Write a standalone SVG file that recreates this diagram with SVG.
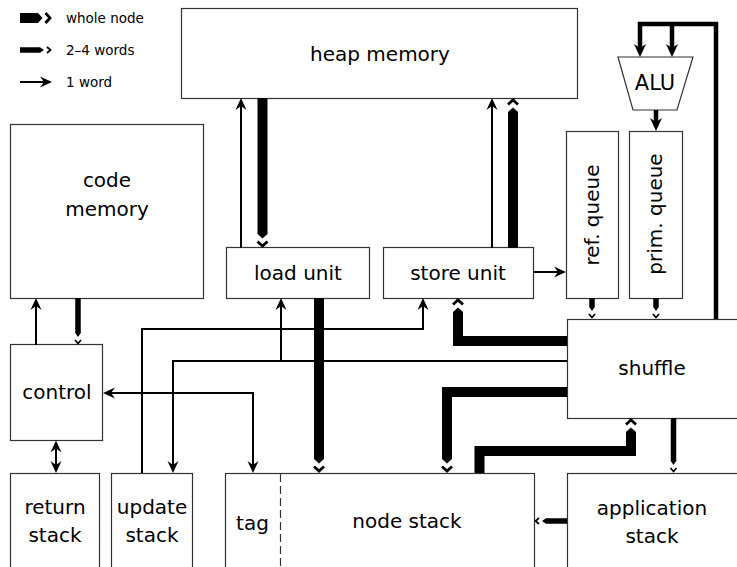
<svg xmlns="http://www.w3.org/2000/svg" width="737" height="567" viewBox="0 0 737 567">
<style>
  .box { fill: #fff; stroke: #333; stroke-width: 1.2; }
  .lbl { font-family: "DejaVu Sans", sans-serif; font-size: 20px; fill: #000; text-anchor: middle; }
  .leg { font-family: "DejaVu Sans", sans-serif; font-size: 13.5px; fill: #000; }
  .c1 { fill: none; stroke: #000; stroke-width: 2; stroke-linejoin: miter; }
  .c2 { fill: none; stroke: #000; stroke-width: 4.5; stroke-linejoin: miter; }
  .c3 { fill: none; stroke: #000; stroke-width: 5.5; stroke-linejoin: miter; }
  .c4 { fill: none; stroke: #000; stroke-width: 10; stroke-linejoin: miter; }
</style>
<defs>
  <marker id="thin" markerUnits="userSpaceOnUse" orient="auto-start-reverse" overflow="visible" markerWidth="1" markerHeight="1" refX="0" refY="0">
    <path d="M4,0 L-8,-5.5 L-4,0 L-8,5.5 Z" fill="#000"/>
  </marker>
  <marker id="mid" markerUnits="userSpaceOnUse" orient="auto" overflow="visible" markerWidth="1" markerHeight="1" refX="0" refY="0">
    <path d="M5,0 L-8,-6 L-4,0 L-8,6 Z" fill="#000"/>
  </marker>
  <marker id="med" markerUnits="userSpaceOnUse" orient="auto" overflow="visible" markerWidth="1" markerHeight="1" refX="0" refY="0">
    <path d="M-0.5,-2.75 L0,-2.75 L4,0 L0,2.75 L-0.5,2.75 Z" fill="#000"/>
    <path d="M7,-3 L10.5,0 L7,3" fill="none" stroke="#000" stroke-width="1.7"/>
  </marker>
  <marker id="whole" markerUnits="userSpaceOnUse" orient="auto" overflow="visible" markerWidth="1" markerHeight="1" refX="0" refY="0">
    <path d="M-0.5,-5 L0,-5 L4.5,0 L0,5 L-0.5,5 Z" fill="#000"/>
    <path d="M7.5,-5 L12,0 L7.5,5" fill="none" stroke="#000" stroke-width="2.8"/>
  </marker>
</defs>

<g id="legend">
  <path class="c4" d="M20,18 L38,18" marker-end="url(#whole)"/>
  <text class="leg" x="66" y="23">whole node</text>
  <path class="c3" d="M20,50 L40,50" marker-end="url(#med)"/>
  <text class="leg" x="66" y="55">2–4 words</text>
  <path class="c1" d="M20,82 L48,82" marker-end="url(#thin)"/>
  <text class="leg" x="66" y="87">1 word</text>
</g>

<g id="heap-memory">
  <rect class="box" x="181.5" y="8.5" width="396" height="90"/>
  <text class="lbl" x="380" y="61">heap memory</text>
</g>
<g id="code-memory">
  <rect class="box" x="10.5" y="124.5" width="193" height="174"/>
  <text class="lbl" x="107" y="187">code</text>
  <text class="lbl" x="107" y="216">memory</text>
</g>
<g id="control">
  <rect class="box" x="10.5" y="344.5" width="92" height="96"/>
  <text class="lbl" x="57" y="399">control</text>
</g>
<g id="load-unit">
  <rect class="box" x="226.5" y="247.5" width="143" height="51"/>
  <text class="lbl" x="298" y="280">load unit</text>
</g>
<g id="store-unit">
  <rect class="box" x="383.5" y="247.5" width="150" height="51"/>
  <text class="lbl" x="458" y="280">store unit</text>
</g>
<g id="ref-queue">
  <rect class="box" x="566.5" y="131.5" width="52" height="167"/>
  <text class="lbl" transform="translate(599,215) rotate(-90)" x="0" y="0">ref.  queue</text>
</g>
<g id="prim-queue">
  <rect class="box" x="629.5" y="131.5" width="53" height="167"/>
  <text class="lbl" transform="translate(662,214) rotate(-90)" x="0" y="0">prim.  queue</text>
</g>
<g id="alu">
  <polygon class="box" points="618,57 693,57 677,110 633,110"/>
  <text class="lbl" x="655" y="90" style="font-size:21px">ALU</text>
</g>
<g id="shuffle">
  <rect class="box" x="567.5" y="319.5" width="180" height="99"/>
  <text class="lbl" x="652" y="375">shuffle</text>
</g>
<g id="return-stack">
  <rect class="box" x="10.5" y="473.5" width="89" height="110"/>
  <text class="lbl" x="55" y="514">return</text>
  <text class="lbl" x="55" y="542">stack</text>
</g>
<g id="update-stack">
  <rect class="box" x="111.5" y="473.5" width="81" height="110"/>
  <text class="lbl" x="152" y="514">update</text>
  <text class="lbl" x="152" y="542">stack</text>
</g>
<g id="node-stack">
  <rect class="box" x="225.5" y="473.5" width="309" height="110"/>
  <path d="M280.5,474 V567" fill="none" stroke="#333" stroke-width="1.2" stroke-dasharray="8,4"/>
  <text class="lbl" x="252.5" y="530">tag</text>
  <text class="lbl" x="407" y="528">node stack</text>
</g>
<g id="application-stack">
  <rect class="box" x="567.5" y="473.5" width="180" height="110"/>
  <text class="lbl" x="652" y="515">application</text>
  <text class="lbl" x="652" y="543">stack</text>
</g>

<g id="connectors">
  <!-- 1 word -->
  <path class="c1" d="M241,248 L241,102" marker-end="url(#thin)"/>
  <path class="c1" d="M492,248 L492,102" marker-end="url(#thin)"/>
  <path class="c1" d="M533,272 L562,272" marker-end="url(#thin)"/>
  <path class="c1" d="M36,345 L36,302" marker-end="url(#thin)"/>
  <path class="c1" d="M253,469 L253,393 L107,393" marker-start="url(#thin)" marker-end="url(#thin)"/>
  <path class="c1" d="M56,444.5 L56,469" marker-start="url(#thin)" marker-end="url(#thin)"/>
  <path class="c1" d="M142,473 L142,329 L423,329 L423,302" marker-end="url(#thin)"/>
  <path class="c1" d="M567,361 L173,361 L173,469" marker-end="url(#thin)"/>
  <path class="c1" d="M281,361 L281,302" marker-end="url(#thin)"/>
  <!-- ALU feed -->
  <path class="c2" d="M716,319 L716,24 L640,24 L640,52" marker-end="url(#mid)"/>
  <path class="c2" d="M672,24 L672,52" marker-end="url(#mid)"/>
  <path class="c2" d="M656,110 L656,126" marker-end="url(#mid)"/>
  <!-- 2-4 words -->
  <path class="c3" d="M78,298 L78,333" marker-end="url(#med)"/>
  <path class="c3" d="M592,298 L592,307" marker-end="url(#med)"/>
  <path class="c3" d="M656,298 L656,307" marker-end="url(#med)"/>
  <path class="c3" d="M673.5,418 L673.5,461" marker-end="url(#med)"/>
  <path class="c3" d="M567,521 L546,521" marker-end="url(#med)"/>
  <!-- whole node -->
  <path class="c4" d="M262.5,98 L262.5,234" marker-end="url(#whole)"/>
  <path class="c4" d="M513,248 L513,112" marker-end="url(#whole)"/>
  <path class="c4" d="M319,298 L319,459" marker-end="url(#whole)"/>
  <path class="c4" d="M567,341 L458,341 L458,312" marker-end="url(#whole)"/>
  <path class="c4" d="M567,392 L447,392 L447,459" marker-end="url(#whole)"/>
  <path class="c4" d="M479.5,473 L479.5,451 L631,451 L631,432" marker-end="url(#whole)"/>
</g>
</svg>
